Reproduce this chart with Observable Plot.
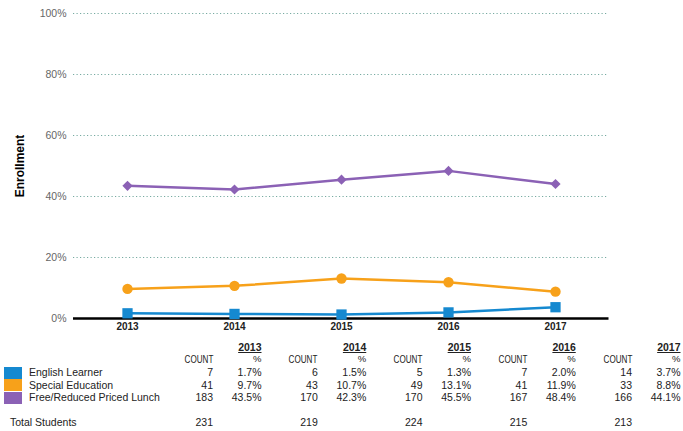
<!DOCTYPE html>
<html>
<head>
<meta charset="utf-8">
<script src="https://cdn.jsdelivr.net/npm/d3@7"></script>
<script src="https://cdn.jsdelivr.net/npm/@observablehq/plot@0.6"></script>
<style>
  body { margin: 0; background: #fff; }
  #wrap { position: relative; width: 683px; height: 431px; overflow: hidden; font-family: "Liberation Sans", Arial, sans-serif; color: #222; }
  #wrap svg { display: block; }
  .t { position: absolute; font-size: 10.5px; line-height: 14px; white-space: nowrap; }
  .narrow { transform: scaleX(0.77); transform-origin: right center; }
  .sw { position: absolute; }
</style>
</head>
<body>
<div id="wrap"></div>
<script>
const years = ["2013", "2014", "2015", "2016", "2017"];
const seriesNames = ["English Learner", "Special Education", "Free/Reduced Priced Lunch"];
const englishLearnerPct = [1.7, 1.5, 1.3, 2.0, 3.7];
const specialEdPct = [9.7, 10.7, 13.1, 11.9, 8.8];
const freeLunchPct = [43.5, 42.3, 45.5, 48.4, 44.1];
const englishLearnerCount = [7, 6, 5, 7, 14];
const specialEdCount = [41, 43, 49, 41, 33];
const freeLunchCount = [183, 170, 170, 167, 166];
const totalStudents = [231, 219, 224, 215, 213];
const yTicks = [0, 20, 40, 60, 80, 100];
const seriesColors = ["#1589d0", "#f7a11a", "#8b61b5"];
const seriesSymbols = ["square", "circle", "diamond2"];
const seriesDotR = [5.8, 5.2, 4.6];

const pctBySeries = [englishLearnerPct, specialEdPct, freeLunchPct];
const countBySeries = [englishLearnerCount, specialEdCount, freeLunchCount];

const data = [];
seriesNames.forEach((s, i) => years.forEach((y, j) => data.push({series: s, year: y, pct: pctBySeries[i][j]})));

const dotMarks = seriesNames.map((s, i) =>
  Plot.dot(data.filter(d => d.series === s), {x: "year", y: "pct", symbol: "series", fill: "series", r: seriesDotR[i], stroke: "none"})
);

const chart = Plot.plot({
  width: 683,
  height: 335,
  marginLeft: 73,
  marginRight: 74.5,
  marginTop: 13,
  marginBottom: 17,
  x: {type: "point", domain: years, padding: 0.5, label: null},
  y: {domain: [0, 100], label: null},
  color: {domain: seriesNames, range: seriesColors},
  symbol: {domain: seriesNames, range: seriesSymbols},
  style: {fontFamily: "'Liberation Sans', Arial, sans-serif", fontSize: "10px", background: "white"},
  marks: [
    Plot.gridY(yTicks.filter(d => d > 0), {stroke: "#5f9c90", strokeOpacity: 0.85, strokeWidth: 1, strokeDasharray: "1.2,2.3"}),
    Plot.axisY(yTicks, {tickSize: 0, tickPadding: 7, tickFormat: d => d + "%", fill: "#666", fontSize: 10.5, label: null}),
    Plot.axisX({tickSize: 0, tickPadding: 4, fontWeight: "bold", fill: "#222", fontSize: 10, label: null}),
    Plot.ruleY([0], {stroke: "#000", strokeWidth: 2.5}),
    Plot.line(data, {x: "year", y: "pct", z: "series", stroke: "series", strokeWidth: 2.5}),
    ...dotMarks,
    Plot.text(["Enrollment"], {frameAnchor: "left", textAnchor: "middle", dx: -53, rotate: -90, fontWeight: "bold", fontSize: 12, fill: "#000"})
  ]
});

const wrap = document.getElementById("wrap");
wrap.appendChild(chart);

// Table below the chart
const W = 683;
const countRight0 = 213, colStep = 104.75, pctOffset = 48.5;
const rowY = {year: 347, head: 359, rows: [372, 384.5, 397], total: 422};

function place(text, xRight, yCenter, extra = {}, cls = "") {
  const el = document.createElement("div");
  el.className = "t " + cls;
  el.textContent = text;
  if (xRight != null) el.style.right = (W - xRight) + "px";
  el.style.top = (yCenter - 7) + "px";
  Object.assign(el.style, extra);
  wrap.appendChild(el);
  return el;
}

years.forEach((y, j) => {
  const cr = countRight0 + j * colStep;
  const pr = cr + pctOffset;
  place(y, pr, rowY.year, {fontWeight: "bold", textDecoration: "underline"});
  place("COUNT", cr, rowY.head, {}, "narrow");
  place("%", pr, rowY.head, {fontSize: "9.5px"});
  seriesNames.forEach((s, i) => {
    place(String(countBySeries[i][j]), cr, rowY.rows[i]);
    place(pctBySeries[i][j].toFixed(1) + "%", pr, rowY.rows[i]);
  });
  place(String(totalStudents[j]), cr, rowY.total);
});

seriesNames.forEach((s, i) => {
  const sw = document.createElement("div");
  sw.className = "sw";
  Object.assign(sw.style, {left: "4px", top: (rowY.rows[i] - 5.5) + "px", width: "18px", height: "12px", background: seriesColors[i]});
  wrap.appendChild(sw);
  const el = place(s, null, rowY.rows[i]);
  el.style.left = "29px";
});
const tl = place("Total Students", null, rowY.total);
tl.style.left = "10px";
</script>
</body>
</html>
